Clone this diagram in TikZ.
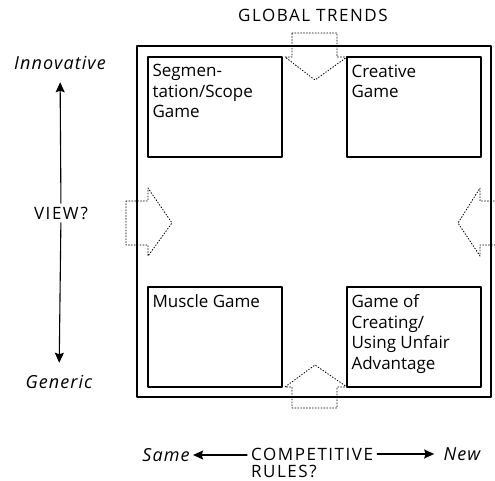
\documentclass[tikz,border=0pt]{standalone}
\usepackage{fontspec}
\setmainfont{Open Sans}
\newfontfamily\capsfont[LetterSpace=9]{Open Sans}
\newfontfamily\slopefont[LetterSpace=6]{Open Sans}
\usetikzlibrary{arrows.meta}

\tikzset{
  game/.style={draw, line width=1.3pt, minimum width=134pt, minimum height=100pt, inner sep=0pt},
  gametext/.style={anchor=north west, align=left, inner xsep=5pt, inner ysep=8pt},
  push/.style={dotted, line width=0.9pt},
  axis/.style={->, line width=1.1pt},
  pole/.style={font=\fontsize{18}{20}\slopefont\itshape}
}

\begin{document}
\begin{tikzpicture}[x=1pt, y=1pt, >={Stealth[length=10pt,width=9pt,inset=1.5pt]}, font=\fontsize{17}{20.5}\selectfont, line join=round, line cap=round]
\useasboundingbox (0,0) rectangle (495,481);
% outer frame
\draw[line width=1.9pt] (137,84) rectangle (491,435);
% the four games
\node[game] (seg) at (215,374) {};
\node[game] (creative) at (414,374) {};
\node[game] (muscle) at (215,144) {};
\node[game] (unfair) at (414,144) {};
\node[gametext] (segtext) at (seg.north west) {Segmen-\\tation/Scope\\Game};
\node[gametext] (creativetext) at (creative.north west) {Creative\\Game};
\node[gametext] (muscletext) at (muscle.north west) {Muscle Game};
\node[gametext] (unfairtext) at (unfair.north west) {Game of\\Creating/\\Using Unfair\\Advantage};
% pressure arrows pushing into the frame
\draw[push] (292,448)--(337,448)--(337,424)--(347,424)--(315,401)--(285,424)--(292,424)--cycle;
\draw[push] (292,73)--(337,73)--(337,94)--(347,94)--(315,116)--(285,94)--(292,94)--cycle;
\draw[push] (126,280)--(148,280)--(148,293)--(172,258)--(148,225)--(148,236)--(126,236)--cycle;
\draw[push] (497,280)--(480,280)--(480,293)--(458,258)--(480,225)--(480,236)--(497,236);
\node[font=\fontsize{17}{20}\capsfont] (trends) at (313,466) {GLOBAL TRENDS};
% vertical axis
\node[font=\fontsize{17}{20}\capsfont] (view) at (61,268) {VIEW?};
\node[pole] (innov) at (60,418) {Innovative};
\node[pole] (generic) at (59,99) {Generic};
\draw[axis, shorten >=9pt] (view) -- (innov);
\draw[axis, shorten >=9pt] (view) -- (generic);
% horizontal axis
\node[align=left, anchor=west, inner sep=4pt, font=\fontsize{17}{16.5}\capsfont] (rules) at (247,18) {COMPETITIVE\\RULES?};
\node[pole] (same) at (166,26) {Same};
\node[pole] (new) at (462,27) {New};
\draw[axis] (rules.west |- same) -- (same);
\draw[axis, shorten >=6pt] (rules.east |- new) -- (new);
\end{tikzpicture}
\end{document}
